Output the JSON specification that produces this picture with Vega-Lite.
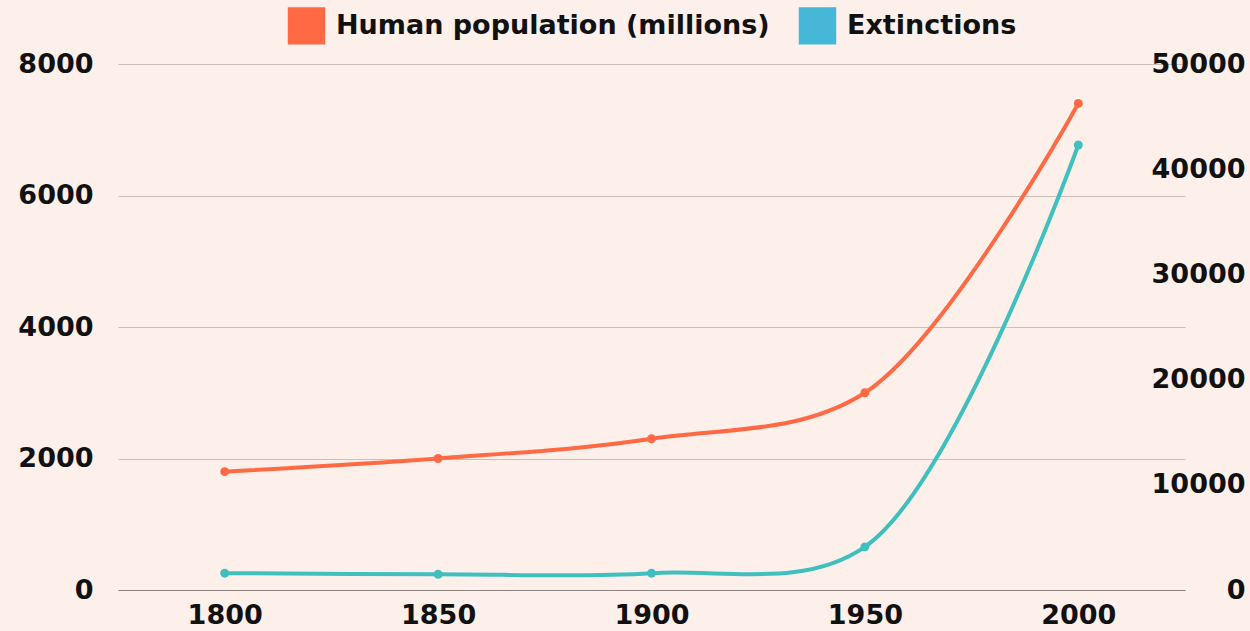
{
  "$schema": "https://vega.github.io/schema/vega-lite/v6.json",
  "width": 1067,
  "height": 526,
  "autosize": "none",
  "padding": {"left": 118, "top": 64, "right": 65, "bottom": 41},
  "background": "#fdefea",
  "config": {
    "view": {"stroke": null},
    "font": "DejaVu Sans",
    "axis": {"labelFont": "DejaVu Sans", "labelFontWeight": "bold", "labelFontSize": 27, "labelColor": "#111111", "ticks": false, "title": null},
    "legend": {"layout": {"top": {"anchor": "middle"}}}
  },
  "data": {
    "values": [
      {"year": 1800, "population": 1800, "extinctions": 1600},
      {"year": 1850, "population": 2000, "extinctions": 1500},
      {"year": 1900, "population": 2300, "extinctions": 1600},
      {"year": 1950, "population": 3000, "extinctions": 4100},
      {"year": 2000, "population": 7400, "extinctions": 42300}
    ]
  },
  "encoding": {
    "x": {
      "field": "year",
      "type": "quantitative",
      "scale": {"domain": [1775, 2025], "nice": false, "zero": false},
      "axis": {"values": [1800, 1850, 1900, 1950, 2000], "format": "d", "grid": false, "domainColor": "#8f8480", "domainWidth": 1.2, "labelPadding": 12}
    }
  },
  "layer": [
    {
      "layer": [
        {"mark": {"type": "line", "interpolate": "catmull-rom", "color": "#ff6a45", "strokeWidth": 4}},
        {"mark": {"type": "point", "filled": true, "opacity": 1, "color": "#ff6a45", "size": 80}}
      ],
      "encoding": {
        "y": {
          "field": "population",
          "type": "quantitative",
          "scale": {"domain": [0, 8000], "nice": false},
          "axis": {"orient": "left", "values": [0, 2000, 4000, 6000, 8000], "format": "d", "grid": true, "gridColor": "#cbbfbb", "gridWidth": 1, "domain": false, "labelPadding": 25}
        }
      }
    },
    {
      "layer": [
        {"mark": {"type": "line", "interpolate": "catmull-rom", "color": "#40bfbf", "strokeWidth": 4}},
        {"mark": {"type": "point", "filled": true, "opacity": 1, "color": "#40bfbf", "size": 80}}
      ],
      "encoding": {
        "y": {
          "field": "extinctions",
          "type": "quantitative",
          "scale": {"domain": [0, 50000], "nice": false},
          "axis": {"orient": "right", "values": [0, 10000, 20000, 30000, 40000, 50000], "format": "d", "grid": false, "domain": false, "labelAlign": "right", "labelPadding": 60}
        }
      }
    },
    {
      "transform": [{"filter": "false"}],
      "mark": {"type": "square", "filled": true, "opacity": 1},
      "encoding": {
        "x": {"field": "year", "type": "quantitative"},
        "color": {
          "field": "series",
          "type": "nominal",
          "scale": {"domain": ["Human population (millions)", "Extinctions"], "range": ["#ff6a45", "#45b8d8"]},
          "legend": {"orient": "top", "direction": "horizontal", "title": null, "symbolType": "square", "symbolSize": 1400, "symbolOpacity": 1, "labelFont": "DejaVu Sans", "labelFontWeight": "bold", "labelFontSize": 27, "labelColor": "#111111", "labelLimit": 600, "columnPadding": 28, "labelOffset": 10, "offset": 19}
        }
      }
    }
  ],
  "resolve": {"scale": {"y": "independent", "color": "independent"}}
}
